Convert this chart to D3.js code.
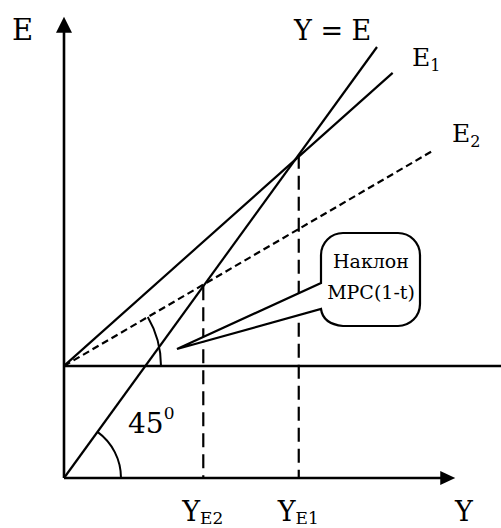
<!DOCTYPE html>
<html>
<head>
<meta charset="utf-8">
<script src="https://cdn.jsdelivr.net/npm/d3@7"></script>
<style>
  body { margin: 0; background: #fff; }
</style>
</head>
<body>
<svg id="chart" width="501" height="528"></svg>
<script>
// model values, in units of the diagram (Y across, E up)
const autonomous = 26;
const lineYE = [[0, 0], [100, 100]];
const lineE1 = [[0, autonomous], [105, 94]];
const lineE2 = [[0, autonomous], [118, 76]];
const equilibria = [
    { name: "E2", y: 44.5, e: 44.5 },
    { name: "E1", y: 75, e: 75 }
];
const axisMax = { y: 125, e: 107 };
const calloutText = ["Наклон", "MPC(1-t)"];

const serif = "'DejaVu Serif', 'Liberation Serif', serif";

const svg = d3.select("#chart");

const x = d3.scaleLinear().domain([0, 100]).range([64, 377]);
const y = d3.scaleLinear().domain([0, 100]).range([478, 47]);

const line = d3.line().x(d => x(d[0])).y(d => y(d[1]));

// axes
svg.append("line")
    .attr("x1", x(0)).attr("y1", y(0))
    .attr("x2", x(0)).attr("y2", y(axisMax.e) + 14)
    .attr("stroke", "#000").attr("stroke-width", 2.6);
svg.append("line")
    .attr("x1", x(0)).attr("y1", y(0))
    .attr("x2", x(axisMax.y) - 12).attr("y2", y(0))
    .attr("stroke", "#000").attr("stroke-width", 2.6);

// arrow heads
const tipY = [x(0), y(axisMax.e)];
svg.append("path")
    .attr("d", `M${tipY[0]},${tipY[1]} L${tipY[0] - 8},${tipY[1] + 16} L${tipY[0] + 8},${tipY[1] + 16} Z`)
    .attr("fill", "#000");
const tipX = [x(axisMax.y), y(0)];
svg.append("path")
    .attr("d", `M${tipX[0]},${tipX[1]} L${tipX[0] - 15},${tipX[1] - 7} L${tipX[0] - 15},${tipX[1] + 7} Z`)
    .attr("fill", "#000");

// autonomous spending level
svg.append("line")
    .attr("x1", x(0)).attr("y1", y(autonomous))
    .attr("x2", 501).attr("y2", y(autonomous))
    .attr("stroke", "#000").attr("stroke-width", 2.4);

// equilibrium drop lines
svg.selectAll("line.drop")
    .data(equilibria)
    .enter()
    .append("line")
    .attr("class", "drop")
    .attr("x1", d => x(d.y)).attr("y1", d => y(d.e))
    .attr("x2", d => x(d.y)).attr("y2", y(0))
    .attr("stroke", "#000").attr("stroke-width", 2.2)
    .attr("stroke-dasharray", "14,7");

// the three lines
svg.append("path").attr("d", line(lineYE))
    .attr("fill", "none").attr("stroke", "#000").attr("stroke-width", 2.2);
svg.append("path").attr("d", line(lineE1))
    .attr("fill", "none").attr("stroke", "#000").attr("stroke-width", 2.2);
svg.append("path").attr("d", line(lineE2))
    .attr("fill", "none").attr("stroke", "#000").attr("stroke-width", 2.2)
    .attr("stroke-dasharray", "7,4");

// angle arcs
function angleOf(seg) {
    const [a, b] = seg;
    return Math.atan2(y(b[1]) - y(a[1]), x(b[0]) - x(a[0]));
}
const arc45 = d3.path();
arc45.arc(x(0), y(0), 57, 0, angleOf(lineYE), true);
svg.append("path").attr("d", arc45.toString())
    .attr("fill", "none").attr("stroke", "#000").attr("stroke-width", 2);

const arcE2 = d3.path();
arcE2.arc(x(0), y(autonomous), 97, 0, angleOf(lineE2), true);
svg.append("path").attr("d", arcE2.toString())
    .attr("fill", "none").attr("stroke", "#000").attr("stroke-width", 2);

// callout
const box = { l: 321, t: 233, r: 420, b: 326, rad: 22 };
const tail = { y1: 283, y2: 309, px: 177, py: 349 };
const cp = d3.path();
cp.moveTo(box.l + box.rad, box.t);
cp.lineTo(box.r - box.rad, box.t);
cp.arcTo(box.r, box.t, box.r, box.t + box.rad, box.rad);
cp.lineTo(box.r, box.b - box.rad);
cp.arcTo(box.r, box.b, box.r - box.rad, box.b, box.rad);
cp.lineTo(box.l + box.rad, box.b);
cp.quadraticCurveTo(box.l + 2, box.b - 2, box.l, tail.y2);
cp.lineTo(tail.px, tail.py);
cp.lineTo(box.l, tail.y1);
cp.lineTo(box.l, box.t + box.rad);
cp.arcTo(box.l, box.t, box.l + box.rad, box.t, box.rad);
cp.closePath();
svg.append("path").attr("d", cp.toString())
    .attr("fill", "#fff").attr("stroke", "#000").attr("stroke-width", 2.2)
    .attr("stroke-linejoin", "miter");

svg.selectAll("text.callout")
    .data(calloutText)
    .enter()
    .append("text")
    .attr("class", "callout")
    .attr("x", 371)
    .attr("y", (d, i) => 268 + i * 31)
    .attr("text-anchor", "middle")
    .attr("font-family", serif)
    .attr("font-size", 19)
    .text(d => d);

// labels
function label(tx, ty, main, sub, size, subSize, dy) {
    const t = svg.append("text")
        .attr("x", tx).attr("y", ty)
        .attr("font-family", serif)
        .attr("font-size", size);
    t.append("tspan").text(main);
    if (sub) {
        t.append("tspan").attr("dy", dy).attr("font-size", subSize).text(sub);
    }
    return t;
}

label(12, 40, "E", null, 29);
label(294, 40, "Y = E", null, 27);
label(412, 66, "E", "1", 25, 16, 5);
label(452, 142, "E", "2", 25, 16, 5);
label(455, 521, "Y", null, 27);

equilibria.forEach(d => {
    label(x(d.y) - 21, 521, "Y", d.name, 27, 17, 3);
});

label(128, 433, "45", "0", 28, 17, -14);
</script>
</body>
</html>
